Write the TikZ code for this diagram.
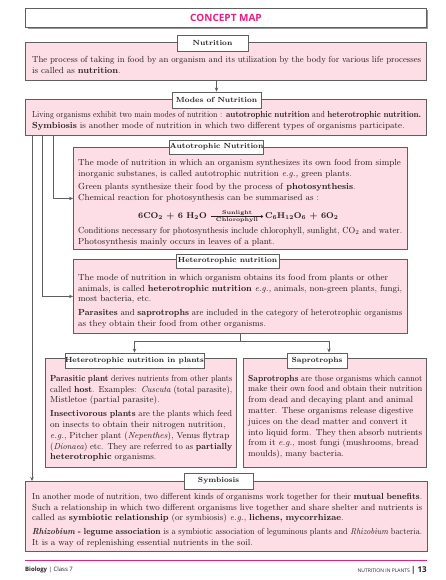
\documentclass[tikz,border=0pt]{standalone}
\usepackage{fontspec}
\usepackage{graphicx}
\newfontfamily\headsans{Open Sans}
\usetikzlibrary{arrows.meta}
\definecolor{pinkfill}{RGB}{253,221,230}
\definecolor{bordergray}{RGB}{95,95,95}
\definecolor{titlepink}{RGB}{232,30,130}
\definecolor{shadowgray}{RGB}{150,150,150}
\definecolor{inkgray}{RGB}{35,31,32}
\newcommand{\bodyfont}{\fontsize{8.8}{10.8}\selectfont}
\newcommand{\pgap}{\par\vspace{3pt}}
\newsavebox{\jlbox}
\newcommand{\jl}[1]{\sbox{\jlbox}{#1}%
  \ifdim\wd\jlbox>\hsize
    \pgfmathsetmacro{\jlf}{\the\hsize/\the\wd\jlbox}%
    \scalebox{\jlf}[1]{\usebox{\jlbox}}%
  \else
    \makebox[\hsize][s]{#1}%
  \fi\par}
\newcommand{\nl}[1]{\sbox{\jlbox}{#1}%
  \ifdim\wd\jlbox>\hsize
    \pgfmathsetmacro{\jlf}{\the\hsize/\the\wd\jlbox}%
    \scalebox{\jlf}[1]{\usebox{\jlbox}}%
  \else
    \usebox{\jlbox}%
  \fi\par}
\newcommand{\eqsmall}{\fontsize{5.4}{6}\selectfont\bfseries}
\begin{document}
\begin{tikzpicture}[x=1pt,y=-1pt,
  pinkbox/.style={draw=bordergray, line width=0.9pt, fill=pinkfill, anchor=north west, inner sep=0pt},
  labelbox/.style={draw=bordergray, line width=0.9pt, fill=white, inner sep=0pt, text=inkgray, font=\fontsize{7.4}{9}\selectfont\bfseries},
  body/.style={anchor=north west, inner sep=0pt, align=left, text=inkgray, font=\bodyfont},
  eqtext/.style={inner sep=0pt, text=inkgray, font=\fontsize{8.4}{10}\selectfont\bfseries},
  conn/.style={draw=bordergray, line width=0.8pt},
  arr/.style={conn, -{Stealth[length=4pt,width=3.5pt]}},
  eqarr/.style={draw=inkgray, line width=0.5pt, -{To[length=2pt,width=3pt]}}]
\useasboundingbox (0,0) rectangle (445,580);
% title
\fill[shadowgray] (27.5,10.5) rectangle (428,29.5);
\node[draw=bordergray, line width=1pt, fill=white, anchor=north west, minimum width=401pt, minimum height=19pt, inner sep=0pt,
  font=\headsans\bfseries\fontsize{10}{12}\selectfont, text=titlepink] (title) at (25,8) {CONCEPT MAP};
% Nutrition
\node[pinkbox, minimum width=401pt, minimum height=38pt] (nutbox) at (25,42) {};
\node[labelbox, minimum width=71pt, minimum height=16pt] (nutlbl) at (212.5,43) {Nutrition};
\node[body, text width=389pt] (nuttext) at (32,55.8) {%
\jl{The process of taking in food by an organism and its utilization by the body for various life processes}
\nl{is called as \textbf{nutrition}.}};
% Modes
\node[pinkbox, minimum width=401pt, minimum height=36pt] (modesbox) at (25,99) {};
\node[labelbox, minimum width=89pt, minimum height=16pt] (modeslbl) at (216.5,100) {Modes of Nutrition};
\node[body, text width=389pt] (modestext) at (32,110.8) {%
\jl{Living organisms exhibit two main modes of nutrition : \textbf{autotrophic nutrition} and \textbf{heterotrophic nutrition.}}
\nl{\textbf{Symbiosis} is another mode of nutrition in which two different types of organisms participate.}};
\draw[arr] (nutbox.south -| modeslbl.north) -- (modeslbl.north);
% Autotrophic
\node[pinkbox, minimum width=334pt, minimum height=102pt] (autobox) at (73,147) {};
\node[labelbox, minimum width=93pt, minimum height=14pt] (autolbl) at (216.5,147) {Autotrophic Nutrition};
\node[body, text width=324pt] (autotext) at (78,158.8) {%
\jl{The mode of nutrition in which an organism synthesizes its own food from simple}
\nl{inorganic substanes, is called autotrophic nutrition \textit{e.g.,} green plants.}\pgap
\nl{Green plants synthesize their food by the process of \textbf{photosynthesis}.}
\nl{Chemical reaction for photosynthesis can be summarised as :}};
\node[eqtext, anchor=east] (eqL) at (207,216) {6CO\textsubscript{2} + 6 H\textsubscript{2}O};
\node[eqtext, anchor=west] (eqR) at (265,216) {C\textsubscript{6}H\textsubscript{12}O\textsubscript{6} + 6O\textsubscript{2}};
\draw[eqarr] ([xshift=4pt,yshift=-0.5pt]eqL.east) -- node[above=0.3pt, inner sep=0pt, text=inkgray, font=\eqsmall] (sun) {Sunlight}
  node[below=0.6pt, inner sep=0pt, text=inkgray, font=\eqsmall] (chl) {Chlorophyll} ([xshift=-2pt,yshift=-0.5pt]eqR.west);
\node[body, text width=324pt] (autotext2) at (78,226.8) {%
\jl{Conditions necessary for photosynthesis include chlorophyll, sunlight, CO\textsubscript{2} and water.}
\nl{Photosynthesis mainly occurs in leaves of a plant.}};
% Heterotrophic
\node[pinkbox, minimum width=334pt, minimum height=74pt] (hetbox) at (73,259) {};
\node[labelbox, minimum width=103pt, minimum height=14pt] (hetlbl) at (227.5,261) {Heterotrophic nutrition};
\node[body, text width=324pt] (hettext) at (78,273.8) {%
\jl{The mode of nutrition in which organism obtains its food from plants or other}
\jl{animals, is called \textbf{heterotrophic nutrition} \textit{e.g.,} animals, non-green plants, fungi,}
\nl{most bacteria, etc.}\pgap
\jl{\textbf{Parasites} and \textbf{saprotrophs} are included in the category of heterotrophic organisms}
\nl{as they obtain their food from other organisms.}};
% Plants
\node[pinkbox, minimum width=191pt, minimum height=109pt] (plantbox) at (45,358) {};
\node[labelbox, minimum width=139pt, minimum height=15pt] (plantlbl) at (134.5,360.5) {Heterotrophic nutrition in plants};
\node[body, text width=182pt] (planttext) at (50,374.8) {%
\jl{\textbf{Parasitic plant} derives nutrients from other plants}
\jl{called \textbf{host}. Examples: \textit{Cuscuta} (total parasite),}
\nl{Mistletoe (partial parasite).}\pgap
\jl{\textbf{Insectivorous plants} are the plants which feed}
\jl{on insects to obtain their nitrogen nutrition,}
\jl{\textit{e.g.}, Pitcher plant (\textit{Nepenthes}), Venus flytrap}
\jl{(\textit{Dionaea}) etc. They are referred to as \textbf{partially}}
\nl{\textbf{heterotrophic} organisms.}};
% Saprotrophs
\node[pinkbox, minimum width=183pt, minimum height=109pt] (sapbox) at (243,358) {};
\node[labelbox, minimum width=60pt, minimum height=15pt] (saplbl) at (317,360.5) {Saprotrophs};
\node[body, text width=174pt] (saptext) at (248,374.8) {%
\jl{\textbf{Saprotrophs} are those organisms which cannot}
\jl{make their own food and obtain their nutrition}
\jl{from dead and decaying plant and animal}
\jl{matter. These organisms release digestive}
\jl{juices on the dead matter and convert it}
\jl{into liquid form. They then absorb nutrients}
\jl{from it \textit{e.g.}, most fungi (mushrooms, bread}
\nl{moulds), many bacteria.}};
% Symbiosis
\node[pinkbox, minimum width=402pt, minimum height=70pt] (symbox) at (25,481) {};
\node[labelbox, minimum width=69pt, minimum height=16pt] (symlbl) at (218.5,481) {Symbiosis};
\node[body, text width=390pt] (symtext) at (32,492.8) {%
\jl{In another mode of nutrition, two different kinds of organisms work together for their \textbf{mutual benefits}.}
\jl{Such a relationship in which two different organisms live together and share shelter and nutrients is}
\nl{called as \textbf{symbiotic relationship} (or symbiosis) \textit{e.g.}, \textbf{lichens, mycorrhizae}.}\pgap
\jl{\textbf{\textit{Rhizobium} - legume association} is a symbiotic association of leguminous plants and \textit{Rhizobium} bacteria.}
\nl{It is a way of replenishing essential nutrients in the soil.}};
% connectors
\draw[arr] ([xshift=7pt]modesbox.south west) -- ([xshift=7pt]symbox.north west);
\draw[arr] ([xshift=17.5pt]modesbox.south west) |- (hetbox.west);
\draw[arr] ([xshift=28pt]modesbox.south west) |- (autobox.west);
\draw[conn] (hetbox.south) -- ++(0,7) coordinate (hj);
\draw[arr] (hj) -| (plantlbl.north);
\draw[arr] (hj) -| ([xshift=12pt]saplbl.north);
% footer
\draw[titlepink, line width=1pt] (25,560) -- (427,560);
\node[anchor=west, inner sep=0pt, text=inkgray, font=\headsans\fontsize{6}{7}\selectfont] (footl) at (25,570) {\textbf{Biology} | Class 7};
\node[anchor=east, inner sep=0pt, text=inkgray, font=\headsans\fontsize{5}{7}\selectfont] (footr) at (427,570) {NUTRITION IN PLANTS {\fontsize{8}{9}\selectfont\textbf{| 13}}};
\end{tikzpicture}
\end{document}
